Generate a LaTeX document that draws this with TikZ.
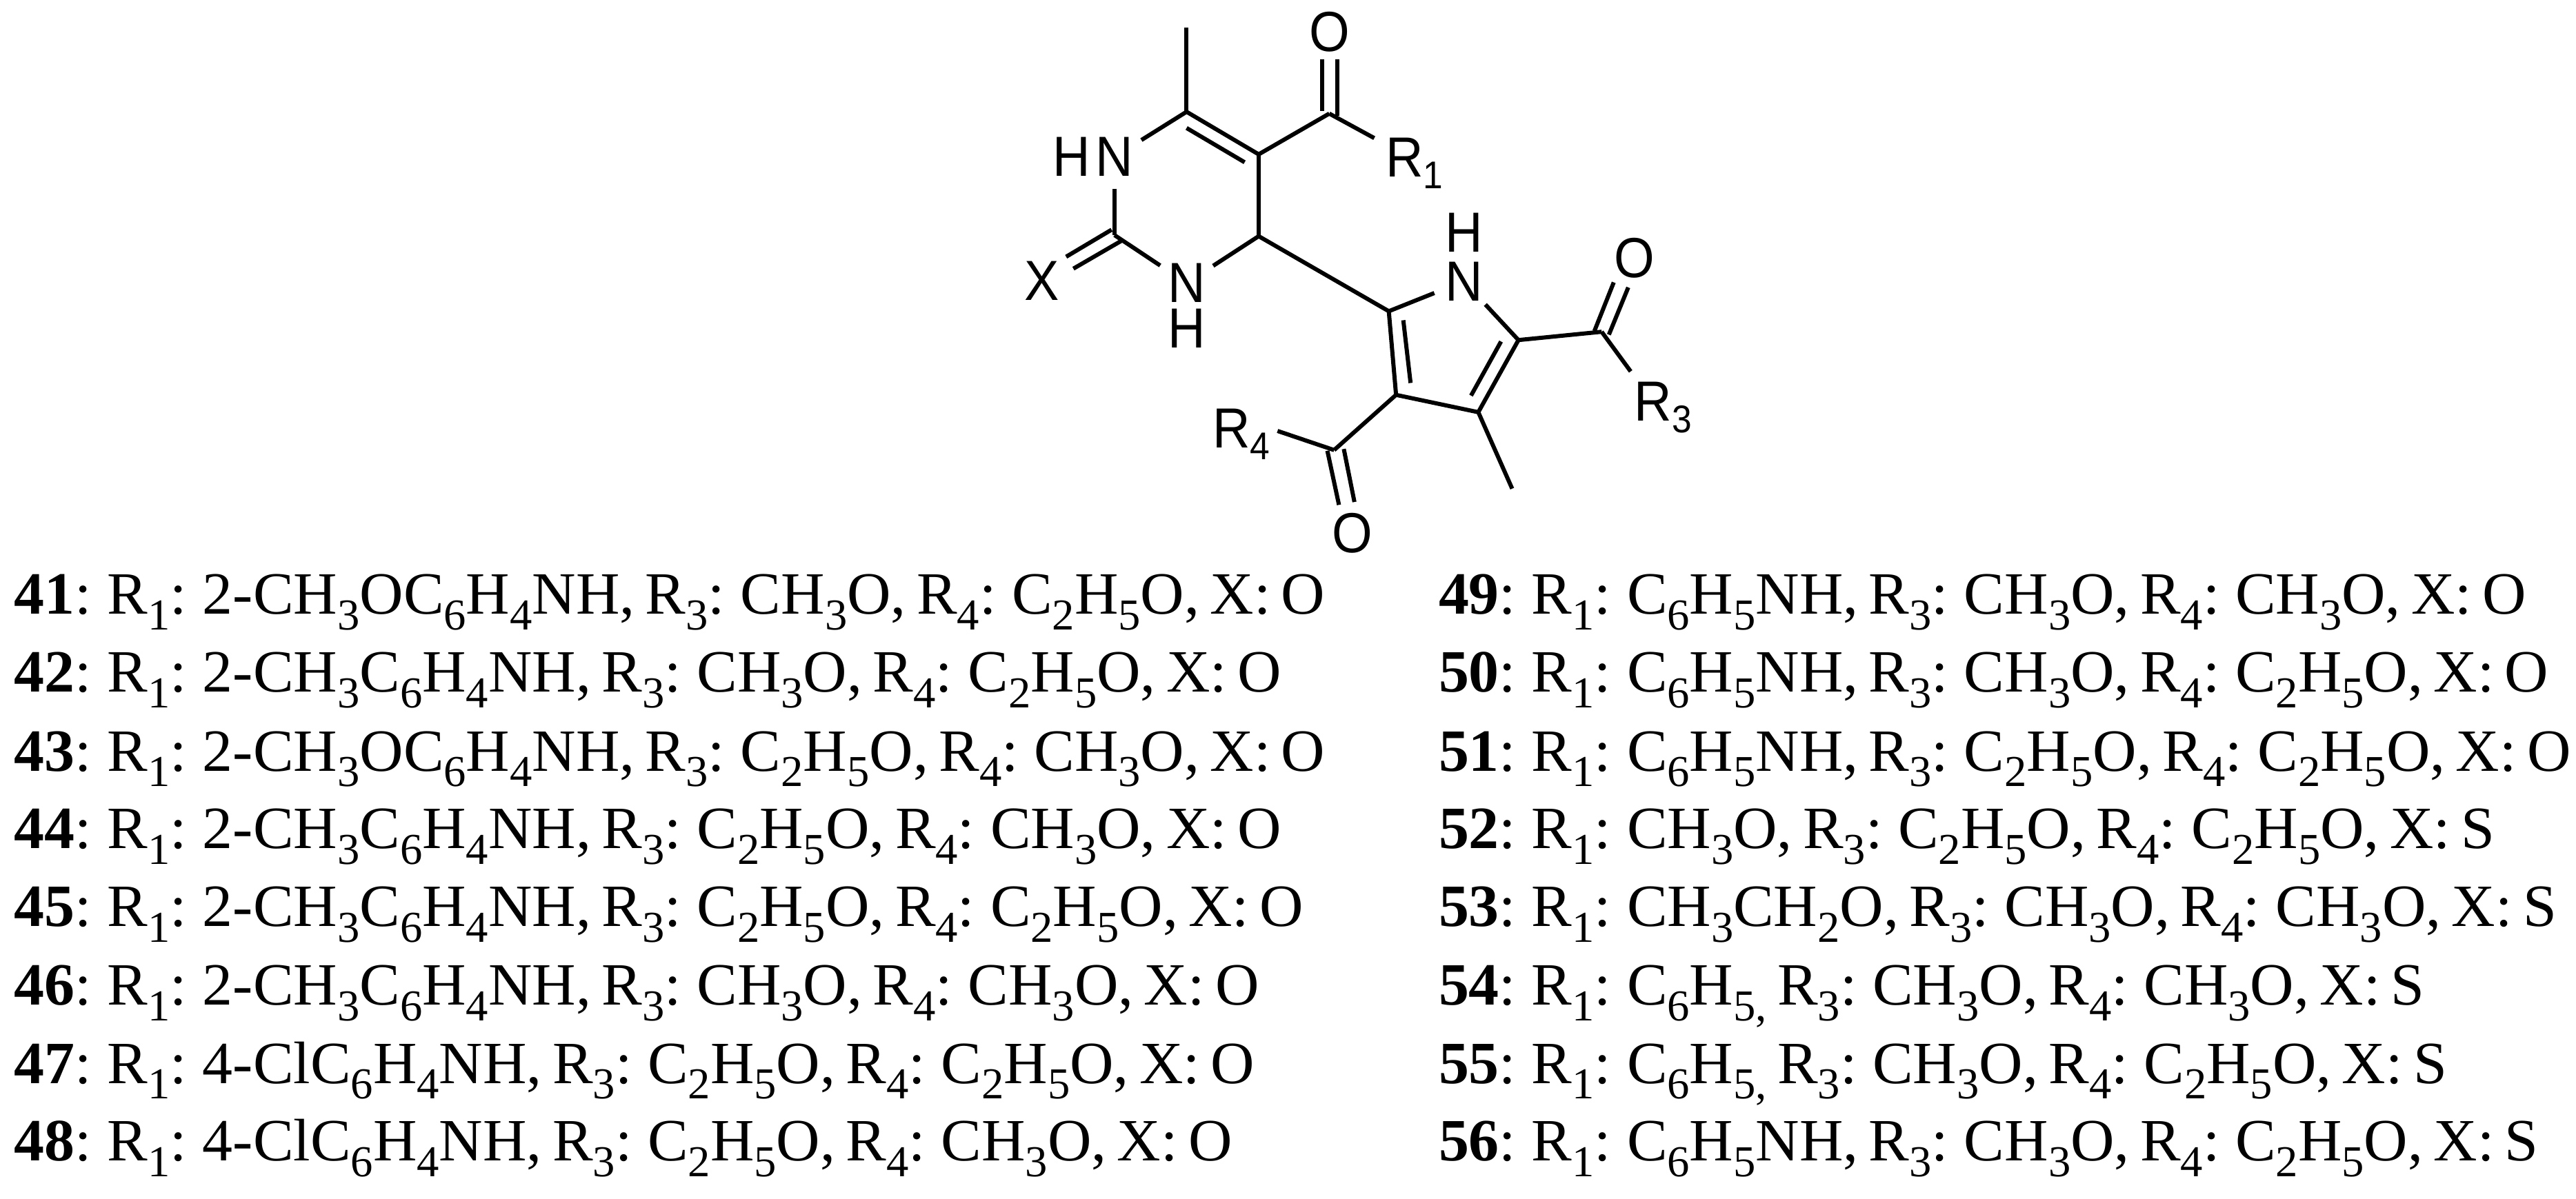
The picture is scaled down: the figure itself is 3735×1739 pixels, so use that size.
\documentclass[tikz,border=0pt]{standalone}
\usepackage{fontspec}
\setmainfont[FakeStretch=1.01,WordSpace=0.7]{Liberation Serif}
\newfontfamily\chemfont[FakeStretch=0.92]{Liberation Sans}
\newcommand{\sbs}[1]{\raisebox{-2.3pt}{\fontsize{6.4}{7}\selectfont #1}}
\newcommand{\csb}[1]{\raisebox{-1.7pt}{\fontsize{5.6}{6}\selectfont #1}}
\newcommand{\Rn}[1]{R\sbs{#1}}
\tikzset{
  bond/.style={line width=0.6pt,line cap=butt,line join=miter},
  atom/.style={circle,inner sep=0pt,minimum size=8.8pt,font=\chemfont\fontsize{8.2}{9}\selectfont,text=black},
  lab/.style={inner sep=0pt,font=\chemfont\fontsize{8.2}{9}\selectfont,anchor=base west},
  row/.style={inner sep=0pt,anchor=base west,font=\fontsize{8.7}{10}\selectfont}
}
\begin{document}
\begin{tikzpicture}[x=0.1pt,y=-0.1pt]
\useasboundingbox (0,0) rectangle (3735,1739);
\begin{scope}[x=0.07015pt,y=-0.0523pt,shift={(140pt,0pt)}]
% carbons and free ends
\coordinate (c6) at (457,310);
\coordinate (me6) at (457,77);
\coordinate (c5) at (606,428);
\coordinate (c6i) at (457,355);
\coordinate (c5i) at (577,450);
\coordinate (co1) at (752,315);
\coordinate (o1a) at (737,165);
\coordinate (o1b) at (769,165);
\coordinate (o1c) at (737,308);
\coordinate (o1d) at (769,322);
\coordinate (r1e) at (845,383);
\coordinate (c4) at (606,655);
\coordinate (c2) at (308,652);
\coordinate (xa) at (302,637);
\coordinate (xb) at (208,712);
\coordinate (xc) at (322,668);
\coordinate (xd) at (223,745);
\coordinate (p2) at (875,863);
\coordinate (p3) at (890,1095);
\coordinate (p4) at (1060,1143);
\coordinate (p5) at (1143,943);
\coordinate (p2i) at (905,888);
\coordinate (p3i) at (920,1062);
\coordinate (p4i) at (1045,1097);
\coordinate (p5i) at (1107,947);
\coordinate (me4) at (1130,1355);
\coordinate (co3) at (1315,920);
\coordinate (o3a) at (1300,918);
\coordinate (o3b) at (1340,783);
\coordinate (o3c) at (1330,928);
\coordinate (o3d) at (1370,797);
\coordinate (r3e) at (1375,1030);
\coordinate (co4) at (762,1248);
\coordinate (r4e) at (645,1195);
\coordinate (o4a) at (748,1250);
\coordinate (o4b) at (772,1400);
\coordinate (o4c) at (782,1245);
\coordinate (o4d) at (804,1392);
% labelled atoms
\node[atom] (n1) at (308,435) {N};
\node[lab,anchor=center] (h1) at (220,435) {H};
\node[atom] (n3) at (457,785) {N};
\node[lab,anchor=center] (h3) at (457,910) {H};
\node[atom] (np) at (1030,780) {N};
\node[lab,anchor=center] (hp) at (1030,645) {H};
\node[lab,anchor=center] (o1) at (753,88) {O};
\node[lab,anchor=center] (o3) at (1383,715) {O};
\node[lab,anchor=center] (o4) at (800,1478) {O};
\node[lab,anchor=center] (x) at (158,778) {X};
\node[lab] (r1) at (866,490) {R\csb{1}};
\node[lab] (r3) at (1380,1168) {R\csb{3}};
\node[lab] (r4) at (508,1242) {R\csb{4}};
% bonds
\draw[bond] (c6) -- (me6);
\draw[bond] (c6) -- (n1);
\draw[bond] (c6) -- (c5);
\draw[bond] (c6i) -- (c5i);
\draw[bond] (c5) -- (co1);
\draw[bond] (co1) -- (r1e);
\draw[bond] (o1a) -- (o1c);
\draw[bond] (o1b) -- (o1d);
\draw[bond] (c5) -- (c4);
\draw[bond] (c4) -- (n3);
\draw[bond] (c4) -- (p2);
\draw[bond] (n1) -- (c2);
\draw[bond] (c2) -- (n3);
\draw[bond] (xa) -- (xb);
\draw[bond] (xc) -- (xd);
\draw[bond] (p2) -- (np);
\draw[bond] (np) -- (p5);
\draw[bond] (p2) -- (p3);
\draw[bond] (p2i) -- (p3i);
\draw[bond] (p3) -- (p4);
\draw[bond] (p4) -- (p5);
\draw[bond] (p4i) -- (p5i);
\draw[bond] (p4) -- (me4);
\draw[bond] (p5) -- (co3);
\draw[bond] (o3a) -- (o3b);
\draw[bond] (o3c) -- (o3d);
\draw[bond] (co3) -- (r3e);
\draw[bond] (p3) -- (co4);
\draw[bond] (co4) -- (r4e);
\draw[bond] (o4a) -- (o4b);
\draw[bond] (o4c) -- (o4d);
\end{scope}
% left column
\node[row] (t41) at (19,891) {\textbf{41}: \Rn1: 2-CH\sbs3OC\sbs6H\sbs4NH, \Rn3: CH\sbs3O, \Rn4: C\sbs2H\sbs5O, X: O};
\node[row] (t42) at (19,1004) {\textbf{42}: \Rn1: 2-CH\sbs3C\sbs6H\sbs4NH, \Rn3: CH\sbs3O, \Rn4: C\sbs2H\sbs5O, X: O};
\node[row] (t43) at (19,1118) {\textbf{43}: \Rn1: 2-CH\sbs3OC\sbs6H\sbs4NH, \Rn3: C\sbs2H\sbs5O, \Rn4: CH\sbs3O, X: O};
\node[row] (t44) at (19,1231) {\textbf{44}: \Rn1: 2-CH\sbs3C\sbs6H\sbs4NH, \Rn3: C\sbs2H\sbs5O, \Rn4: CH\sbs3O, X: O};
\node[row] (t45) at (19,1344) {\textbf{45}: \Rn1: 2-CH\sbs3C\sbs6H\sbs4NH, \Rn3: C\sbs2H\sbs5O, \Rn4: C\sbs2H\sbs5O, X: O};
\node[row] (t46) at (19,1458) {\textbf{46}: \Rn1: 2-CH\sbs3C\sbs6H\sbs4NH, \Rn3: CH\sbs3O, \Rn4: CH\sbs3O, X: O};
\node[row] (t47) at (19,1571) {\textbf{47}: \Rn1: 4-ClC\sbs6H\sbs4NH, \Rn3: C\sbs2H\sbs5O, \Rn4: C\sbs2H\sbs5O, X: O};
\node[row] (t48) at (19,1684) {\textbf{48}: \Rn1: 4-ClC\sbs6H\sbs4NH, \Rn3: C\sbs2H\sbs5O, \Rn4: CH\sbs3O, X: O};
% right column
\node[row] (t49) at (2084,891) {\textbf{49}: \Rn1: C\sbs6H\sbs5NH, \Rn3: CH\sbs3O, \Rn4: CH\sbs3O, X: O};
\node[row] (t50) at (2084,1004) {\textbf{50}: \Rn1: C\sbs6H\sbs5NH, \Rn3: CH\sbs3O, \Rn4: C\sbs2H\sbs5O, X: O};
\node[row] (t51) at (2084,1118) {\textbf{51}: \Rn1: C\sbs6H\sbs5NH, \Rn3: C\sbs2H\sbs5O, \Rn4: C\sbs2H\sbs5O, X: O};
\node[row] (t52) at (2084,1231) {\textbf{52}: \Rn1: CH\sbs3O, \Rn3: C\sbs2H\sbs5O, \Rn4: C\sbs2H\sbs5O, X: S};
\node[row] (t53) at (2084,1344) {\textbf{53}: \Rn1: CH\sbs3CH\sbs2O, \Rn3: CH\sbs3O, \Rn4: CH\sbs3O, X: S};
\node[row] (t54) at (2084,1458) {\textbf{54}: \Rn1: C\sbs6H\sbs{5,} \Rn3: CH\sbs3O, \Rn4: CH\sbs3O, X: S};
\node[row] (t55) at (2084,1571) {\textbf{55}: \Rn1: C\sbs6H\sbs{5,} \Rn3: CH\sbs3O, \Rn4: C\sbs2H\sbs5O, X: S};
\node[row] (t56) at (2084,1684) {\textbf{56}: \Rn1: C\sbs6H\sbs5NH, \Rn3: CH\sbs3O, \Rn4: C\sbs2H\sbs5O, X: S};
\end{tikzpicture}
\end{document}
